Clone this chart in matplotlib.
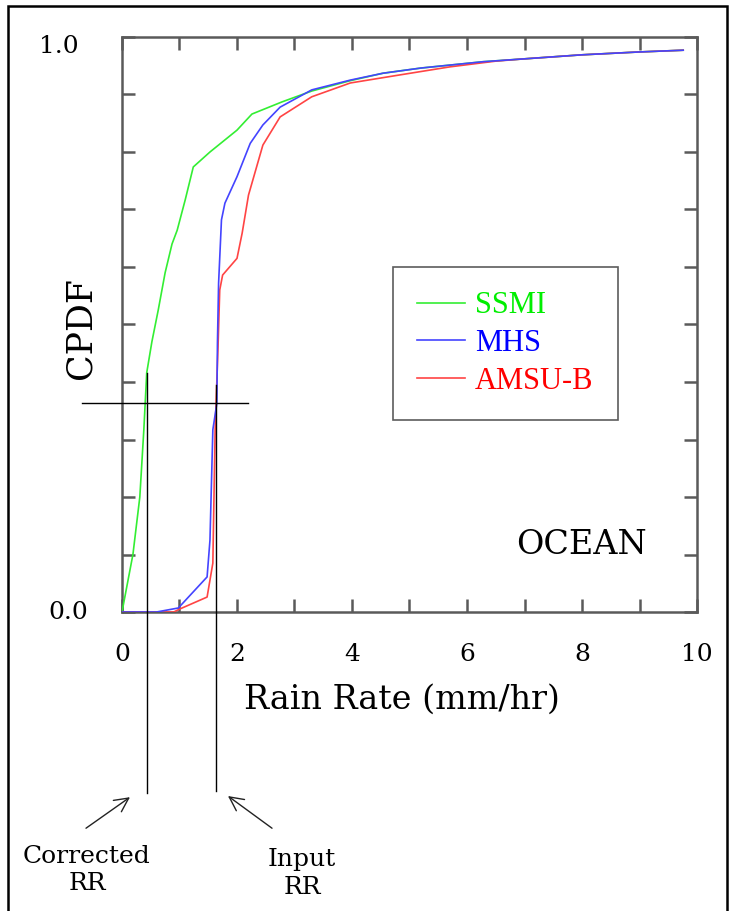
import matplotlib
matplotlib.use("Agg")
import matplotlib.pyplot as plt
from matplotlib.patches import Rectangle

# ---------------------------------------------------
# DATA
# ---------------------------------------------------

ssmi_x = [0, 0.19, 0.31, 0.38, 0.43, 0.52, 0.63, 0.75, 0.87, 0.96, 1.1, 1.24,
          1.53, 2.0, 2.26, 2.78, 3.3, 3.97, 4.54, 5.2, 6.28, 7.0, 8.0, 9.0, 9.76]
ssmi_y = [0, 0.10, 0.20, 0.317, 0.416, 0.47, 0.525, 0.59, 0.64, 0.664, 0.717, 0.774,
          0.80, 0.838, 0.866, 0.887, 0.906, 0.924, 0.937, 0.946, 0.957, 0.962, 0.969, 0.974, 0.977]

mhs_x = [0, 0.6, 0.98, 1.48, 1.53, 1.58, 1.65, 1.66, 1.68, 1.73, 1.79, 2.0,
         2.23, 2.45, 2.75, 3.3, 3.97, 4.54, 5.2, 6.28, 7.0, 8.0, 9.0, 9.76]
mhs_y = [0, 0, 0.007, 0.061, 0.125, 0.317, 0.363, 0.468, 0.572, 0.682, 0.711, 0.757,
         0.815, 0.847, 0.878, 0.908, 0.925, 0.937, 0.946, 0.957, 0.962, 0.969, 0.974, 0.977]

amsub_x = [0, 0.9, 1.0, 1.48, 1.58, 1.62, 1.67, 1.70, 1.75, 2.0, 2.09, 2.2,
           2.45, 2.75, 3.3, 3.97, 4.83, 5.7, 6.5, 7.0, 8.0, 9.0, 9.76]
amsub_y = [0, 0, 0.005, 0.026, 0.085, 0.317, 0.46, 0.56, 0.586, 0.615, 0.659, 0.725,
           0.812, 0.861, 0.896, 0.92, 0.934, 0.948, 0.958, 0.962, 0.969, 0.974, 0.977]

series_names = ["SSMI", "MHS", "AMSU-B"]
line_colors = ["#33ee33", "#4444ff", "#ff4444"]
text_colors = ["#00ee00", "#0000ff", "#ff0000"]

# lookup example: CPDF level, corrected and input rain rates
cpdf_level = 0.363
corrected_rr = 0.435
input_rr = 1.635

x_ticks = [0, 2, 4, 6, 8, 10]

# ---------------------------------------------------
# PLOT
# ---------------------------------------------------

serif = "DejaVu Serif"
spine_col = "#5a5a5a"

fig = plt.figure(figsize=(7.34, 9.11), dpi=100)
ax = fig.add_axes([0.1662, 0.3282, 0.7834, 0.6312])

lines = []
for xs, ys, name, col in zip([ssmi_x, amsub_x, mhs_x], [ssmi_y, amsub_y, mhs_y],
                             ["SSMI", "AMSU-B", "MHS"],
                             [line_colors[0], line_colors[2], line_colors[1]]):
    ln, = ax.plot(xs, ys, color=col, lw=1.2, label=name, zorder=3)
    lines.append(ln)

ax.set_xlim(0, 10)
ax.set_ylim(0, 1)

for s in ax.spines.values():
    s.set_color(spine_col)
    s.set_linewidth(1.8)

ax.set_xticks(x_ticks)
ax.set_xticklabels([str(t) for t in x_ticks], fontsize=18, family=serif)
ax.set_xticks(range(0, 11), minor=True)
ax.set_yticks([i / 10 for i in range(11)])
ax.set_yticklabels([])
ax.tick_params(which="both", direction="in", length=9.5, width=1.8, color=spine_col,
               top=True, right=True, pad=22)

# y labels only at the ends
ax.text(-0.1096, 0.983, "1.0", transform=ax.transAxes, ha="center", va="center",
        fontsize=18, family=serif)
ax.text(-0.094, 0.0, "0.0", transform=ax.transAxes, ha="center", va="center",
        fontsize=18, family=serif)

ax.text(-0.073, 0.494, "CPDF", transform=ax.transAxes, rotation=90,
        ha="center", va="center", fontsize=25, family=serif)
ax.text(0.487, -0.153, "Rain Rate (mm/hr)", transform=ax.transAxes,
        ha="center", va="center", fontsize=24, family=serif)
ax.text(0.799, 0.1165, "OCEAN", transform=ax.transAxes,
        ha="center", va="center", fontsize=24, family=serif)

# legend
handles = [lines[0], lines[2], lines[1]]
leg = ax.legend(handles, series_names, loc="upper left", bbox_to_anchor=(0.471, 0.6),
                borderaxespad=0, frameon=True, fancybox=False, edgecolor="#333333",
                prop={"family": "Liberation Serif", "size": 22},
                handlelength=1.55, handletextpad=0.33, labelspacing=0.28,
                borderpad=0.8)
leg.get_frame().set_linewidth(1.2)
for txt, col in zip(leg.get_texts(), text_colors):
    txt.set_color(col)

# lookup lines
ax.plot([-0.70, 2.19], [cpdf_level, cpdf_level], color="black", lw=1.0,
        clip_on=False, zorder=4)
ax.plot([corrected_rr, corrected_rr], [0.416, -0.315], color="black", lw=1.0,
        clip_on=False, zorder=4)
ax.plot([input_rr, input_rr], [0.395, -0.311], color="black", lw=1.0,
        clip_on=False, zorder=4)

arrow = dict(arrowstyle="->,head_length=0.5,head_width=0.25", lw=1.0,
             color="#222222", shrinkA=0, shrinkB=0, mutation_scale=20)
ax.annotate("", xy=(0.139, -0.322), xytext=(-0.626, -0.376), arrowprops=arrow,
            annotation_clip=False)
ax.annotate("", xy=(1.843, -0.320), xytext=(2.609, -0.376), arrowprops=arrow,
            annotation_clip=False)

ax.text(-0.609, -0.449, "Corrected\nRR", ha="center", va="center", fontsize=18,
        family=serif, linespacing=1.25, clip_on=False)
ax.text(3.13, -0.455, "Input\nRR", ha="center", va="center", fontsize=18,
        family=serif, linespacing=1.25, clip_on=False)

# outer frame
fig.patches.append(Rectangle((0.011, -0.02), 0.979, 1.013, transform=fig.transFigure,
                             fill=False, edgecolor="black", lw=1.8))

fig.savefig("out.png", dpi=100)
plt.close(fig)
